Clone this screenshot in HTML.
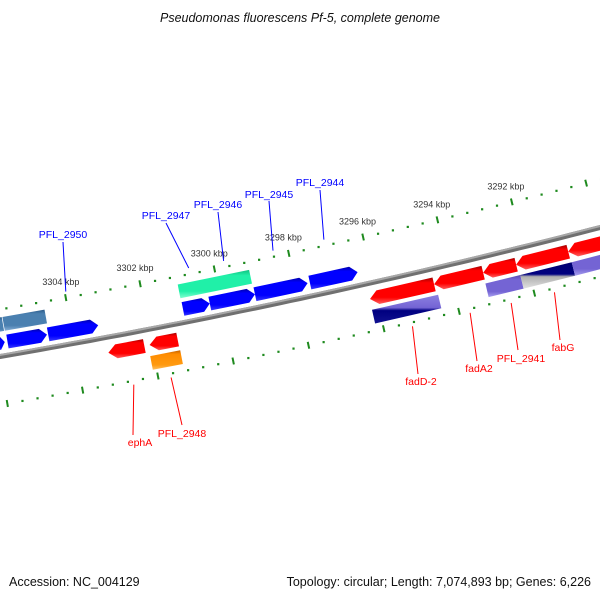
<!DOCTYPE html>
<html><head><meta charset="utf-8"><style>
html,body{margin:0;padding:0;background:#fff}
svg{display:block}
text{font-family:"Liberation Sans","DejaVu Sans",sans-serif}
</style></head><body>
<svg id="map" width="600" height="600" viewBox="0 0 600 600" xmlns="http://www.w3.org/2000/svg">
<defs id="defs"></defs>
<text x="300" y="22" text-anchor="middle" font-size="12.5" font-style="italic" fill="#111">Pseudomonas fluorescens Pf-5, complete genome</text>
<g id="rulers"></g>
<g id="backbone"></g>
<g id="features"></g>
<g id="labels"></g>
<text x="9" y="586" font-size="12.5" fill="#111">Accession: NC_004129</text>
<text x="591" y="586" text-anchor="end" font-size="12.5" fill="#111">Topology: circular; Length: 7,074,893 bp; Genes: 6,226</text>
</svg>
<script>
// ---- data ----
const tickStartKbp = 3306.4;
const tickEndKbp = 3288;
const majorLabels = [3304, 3302, 3300, 3298, 3296, 3294, 3292];
const featStart = [3306.11, 3305.72, 3304.63, 3301.02, 3300.30, 3299.09, 3297.62, 3306.11, 3305.74, 3301.03, 3303.16, 3302.06, 3296.18, 3294.47, 3293.16, 3292.28, 3290.89, 3302.10, 3296.19, 3293.17, 3292.24, 3290.87];
const featEnd   = [3305.79, 3304.66, 3303.29, 3300.30, 3299.09, 3297.68, 3296.34, 3305.76, 3304.61, 3299.11, 3302.20, 3301.31, 3294.47, 3293.16, 3292.28, 3290.89, 3289.40, 3301.30, 3294.43, 3292.24, 3290.87, 3289.40];
const featTrack = [-1, -1, -1, -1, -1, -1, -1, -2, -2, -2, 1, 1, 1, 1, 1, 1, 1, 2, 2, 2, 2, 2];
const featType  = ["blue","blue","blue","blue","blue","blue","blue","steel","steel","green","red","red","red","red","red","red","red","orange","purnavy","purple","navygrey","purple"];
const labelNames = ["PFL_2950","PFL_2947","PFL_2946","PFL_2945","PFL_2944","ephA","PFL_2948","fadD-2","fadA2","PFL_2941","fabG"];
const labelKbp = [3303.97, 3300.66, 3299.72, 3298.39, 3297.02, 3302.66, 3301.67, 3295.26, 3293.73, 3292.64, 3291.49];
const labelStrand = [-1, -1, -1, -1, -1, 1, 1, 1, 1, 1, 1];
// ---- layout ----
const labelTextX = [63, 166, 218, 269, 320, 140, 182, 421, 479, 521, 563];
const labelTextY = [238, 219, 208, 198, 186, 446, 437, 385, 372, 362, 351];
const labelLineEnd = [[63,242],[166,223],[218,212],[269,201],[320,190],[133,435],[182,425],[418,374],[477,361],[518,350],[560,340]];

const NS = "http://www.w3.org/2000/svg";
function mk(tag, attrs, parent){const e=document.createElementNS(NS,tag);for(const k in attrs)e.setAttribute(k,attrs[k]);parent.appendChild(e);return e;}
const sOf = k => 74 + (3304 - k) * 37.4;
const fy = s => 356 - 0.1717*s - 7.2e-5*s*s;
const slope = s => -0.1717 - 1.44e-4*s;
function pt(s, off){const m=slope(s);const l=Math.sqrt(1+m*m);return [s+off*(-m)/l, fy(s)+off/l];}

const defs=document.getElementById('defs');
const colors={blue:["#0000a8","#0000ff","#0000ff","#3a3aff"],red:["#a00000","#ff0000","#ff0000","#ff6060"],green:["#10c080","#20f0a8","#20f0a8","#80ffd0"],steel:["#2a5a88","#4a80b0","#4a80b0","#88b0d8"],orange:["#c06000","#ff8c00","#ff9a10","#ffc060"],purple:["#5848b0","#7464d4","#7464d4","#a8a0f0"],purnavy:["#8c80e0","#7464d4","#000080","#101090"],navygrey:["#000070","#000080","#b0b0b0","#e0e0e0"]};
for(const c in colors){const g=mk('linearGradient',{id:'g-'+c,x1:0,y1:0,x2:0,y2:1},defs);const cs=colors[c];
 const offs=c==='purnavy'||c==='navygrey'?[0,0.45,0.55,1]:[0,0.2,0.75,1];
 cs.forEach((col,i)=>mk('stop',{offset:offs[i],'stop-color':col},g));}

// rulers
const rul=document.getElementById('rulers');
const n=Math.round((tickStartKbp-tickEndKbp)/0.4);
[-46,48].forEach((off,ri)=>{
 for(let i=0;i<=n;i++){
  const k=tickStartKbp-i*0.4;const s=sOf(k);
  const isMajor=Math.abs(k/2-Math.round(k/2))<0.01;
  if(isMajor){const a=pt(s,off-3.5),b=pt(s,off+3.5);
   const t=mk('line',{x1:a[0],y1:a[1],x2:b[0],y2:b[1],stroke:'#1e8a1e','stroke-width':2},rul);
   }
  else{const p=pt(s,off);const d=mk('rect',{x:p[0]-1,y:p[1]-1,width:2.2,height:2.2,fill:'#1e8a1e'},rul);
   }
 }});
majorLabels.forEach(k=>{const p=pt(sOf(k),-62);
 const t=mk('text',{x:p[0]-2,y:p[1]+3,'text-anchor':'middle','font-size':9,fill:'#333'},rul);t.textContent=k+' kbp';
 });

// backbone
const bb=document.getElementById('backbone');
function line(off){let d='';for(let s=-20;s<=640;s+=10){const p=pt(s,off);d+=(d?'L':'M')+p[0].toFixed(1)+' '+p[1].toFixed(1);}return d;}
mk('path',{d:line(0.5),stroke:'#707070','stroke-width':5,fill:'none'},bb);
mk('path',{d:line(-1),stroke:'#a8a8a8','stroke-width':2,fill:'none'},bb);

// features
const fg=document.getElementById('features');
const trackOff={'-1':-13,'-2':-31,'1':16,'2':34};
featStart.forEach((k1,i)=>{
 const s1=sOf(k1),s2=sOf(featEnd[i]);const off=trackOff[featTrack[i]];const h=14;const type=featType[i];
 const arrow=type==='blue'||type==='red';let pts;
 if(arrow&&featTrack[i]<0){const hl=Math.min(7,(s2-s1)*0.4);pts=[pt(s1,off-h/2),pt(s2-hl,off-h/2),pt(s2,off),pt(s2-hl,off+h/2),pt(s1,off+h/2)];}
 else if(arrow){const hl=Math.min(8,(s2-s1)*0.4);pts=[pt(s1,off),pt(s1+hl,off-h/2),pt(s2,off-h/2),pt(s2,off+h/2),pt(s1+hl,off+h/2)];}
 else pts=[pt(s1,off-h/2),pt(s2,off-h/2),pt(s2,off+h/2),pt(s1,off+h/2)];
 const p=mk('polygon',{points:pts.map(q=>q[0].toFixed(1)+','+q[1].toFixed(1)).join(' '),fill:'url(#g-'+type+')'},fg);
 
 
});

// labels
const lg=document.getElementById('labels');
labelNames.forEach((nm,i)=>{
 const col=labelStrand[i]<0?'#0000ff':'#ff0000';
 const a=pt(sOf(labelKbp[i]),labelStrand[i]*52);const e=labelLineEnd[i];
 const l=mk('line',{x1:a[0],y1:a[1],x2:e[0],y2:e[1],stroke:col,'stroke-width':1},lg);
 
 const t=mk('text',{x:labelTextX[i],y:labelTextY[i],'text-anchor':'middle','font-size':10.5,fill:col},lg);t.textContent=nm;
 
});
</script>
</body></html>
